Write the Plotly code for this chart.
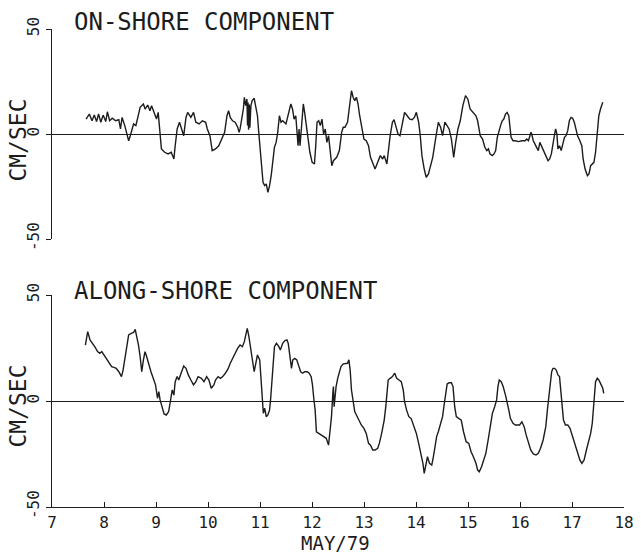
import plotly.graph_objects as go

# ---------------- data ----------------
on_days = [7.655, 7.718, 7.769, 7.813, 7.857, 7.895, 7.939, 7.983, 8.034, 8.065, 8.109, 8.159, 8.222, 8.285,
           8.317, 8.348, 8.399, 8.443, 8.474, 8.506, 8.537, 8.569, 8.613, 8.651, 8.695, 8.758, 8.790, 8.840,
           8.884, 8.915, 8.966, 9.010, 9.042, 9.074, 9.104, 9.167, 9.231, 9.293, 9.344, 9.369, 9.407, 9.452,
           9.495, 9.533, 9.577, 9.609, 9.671, 9.722, 9.766, 9.829, 9.892, 9.955, 9.987, 10.037, 10.081,
           10.144, 10.207, 10.270, 10.320, 10.365, 10.396, 10.428, 10.472, 10.522, 10.572, 10.598, 10.617,
           10.648, 10.680, 10.699, 10.724, 10.749, 10.760, 10.770, 10.780, 10.795, 10.805, 10.825, 10.850,
           10.888, 10.919, 10.951, 10.976, 11.001, 11.026, 11.058, 11.089, 11.121, 11.152, 11.184, 11.215,
           11.247, 11.278, 11.310, 11.341, 11.373, 11.404, 11.436, 11.467, 11.499, 11.530, 11.562, 11.593,
           11.625, 11.656, 11.688, 11.707, 11.732, 11.751, 11.770, 11.795, 11.820, 11.833, 11.858, 11.896,
           11.921, 11.959, 12.003, 12.047, 12.072, 12.097, 12.129, 12.160, 12.192, 12.223, 12.255, 12.286,
           12.318, 12.349, 12.381, 12.412, 12.444, 12.475, 12.526, 12.570, 12.601,
           12.633, 12.683, 12.721, 12.759, 12.791, 12.822, 12.854, 12.885, 12.917, 12.961, 12.999, 13.043,
           13.087, 13.125, 13.169, 13.213, 13.263, 13.314, 13.358, 13.389, 13.440, 13.465, 13.503, 13.547,
           13.578, 13.610, 13.654, 13.692, 13.736, 13.780, 13.830, 13.881, 13.925, 13.969, 14.007, 14.051,
           14.082, 14.114, 14.158, 14.196, 14.240, 14.284, 14.322, 14.366, 14.397, 14.429, 14.473, 14.511,
           14.555, 14.599, 14.637, 14.681, 14.725, 14.763, 14.807, 14.851, 14.901, 14.952, 14.996, 15.040,
           15.090, 15.153,
           15.185, 15.235, 15.280, 15.324, 15.361, 15.393, 15.424, 15.469, 15.500, 15.532, 15.563, 15.595,
           15.626, 15.658, 15.689, 15.721, 15.752, 15.784, 15.803, 15.828, 15.866, 15.910, 15.973, 16.036,
           16.099, 16.130, 16.162, 16.193, 16.212, 16.225, 16.256, 16.288, 16.319, 16.351, 16.382, 16.414,
           16.445, 16.496, 16.540, 16.571, 16.603, 16.634, 16.666, 16.685, 16.710, 16.729, 16.760, 16.792,
           16.823, 16.855, 16.886, 16.918, 16.949, 16.981, 17.012, 17.044, 17.075, 17.107, 17.151, 17.189,
           17.214, 17.252, 17.296, 17.327, 17.359, 17.390, 17.422, 17.453, 17.485, 17.516, 17.548, 17.592]
on_vals = [7.1, 9.5, 6.3, 9.0, 5.9, 9.5, 5.6, 9.0, 5.9, 10.6, 6.3, 7.5, 6.3, 6.8,
           2.4, 7.9, 4.0, 0.0, -3.2, -0.8, 2.4, 4.8, 4.0, 8.7, 12.7, 14.3, 11.9, 13.8,
           11.1, 13.5, 10.3, 7.1, 10.3, 0.0, -7.1, -8.7, -9.5, -8.7, -11.9, -5.6, 2.4, 5.6,
           2.4, -0.8, 7.9, 10.3, 7.9, 10.3, 5.6, 4.8, 6.3, 5.6, 2.4, -0.8, -7.9,
           -7.1, -5.6, -1.6, 0.8, 8.7, 11.1, 7.9, 6.3, 5.6, 3.2, 0.8, 2.4,
           7.1, 11.9, 17.5, 13.5, 16.7, 4.0, 15.0, 2.0, 14.0, 3.0, 13.5, 15.9,
           17.0, 13.5, 8.7, 0.8, -5.6, -15.1, -23.0, -24.6, -23.8, -27.8, -24.6, -19.8,
           -13.5, -6.3, -4.0, 0.8, 8.7, 5.6, 6.3, 5.6, 4.8, 7.9, 11.9, 14.3,
           11.9, 7.1, 8.7, 4.0, -5.6, 2.4, -5.6, 2.4, 13.5, 14.3, 10.3, 2.4,
           -2.4, -8.7, -13.5, -14.3, -5.6, 5.6, 6.3, 4.0, 7.1, 0.0, 2.4, -4.0,
           -0.8, -7.1, -15.1, -12.7, -11.9, -11.1, -7.9, 0.8, 3.2,
           3.2, 5.6, 11.9, 20.6, 17.5, 15.9, 17.5, 14.3, 8.7, 2.4, -2.4, -3.2,
           -5.6, -11.1, -13.5, -16.7, -13.5, -10.3, -11.9, -10.3, -14.3, -8.7, -0.8, 5.6,
           6.8, 4.0, 0.0, -0.8, 5.6, 10.3, 8.7, 7.1, 6.8, 7.9, 10.3, 5.6,
           -0.8, -10.3, -16.7, -20.6, -19.0, -15.1, -11.1, -4.0, 0.8, 5.6, 3.2, -0.8,
           5.6, 4.0, 2.4, -2.4, -11.1, -4.0, 2.4, 6.3, 13.5, 18.3, 16.7, 11.9,
           10.3, 8.7,
           6.3, -0.8, -2.4, -6.3, -7.9, -7.1, -9.5, -10.3, -9.5, -7.9, -1.6, 1.6,
           4.0, 6.3, 7.1, 9.5, 10.3, 8.7, 4.0, -1.6, -3.2, -3.2, -3.6, -3.2,
           -3.2, -2.4, -3.2, -0.8, 0.8, 0.0, -3.2, -4.8, -6.3, -7.9, -4.0, -5.6,
           -7.9, -10.3, -12.7, -11.9, -9.5, -4.0, 0.0, 2.4, 0.0, -7.1, -5.6, -7.9,
           -4.8, -1.6, -0.8, 1.6, 6.3, 7.9, 7.5, 5.6, 2.4, -0.8, -3.2, -5.6,
           -11.9, -16.7, -19.8, -19.0, -15.1, -14.3, -13.5, -8.7, 0.8, 8.7, 11.9, 15.1]

along_days = [7.642, 7.687, 7.731, 7.781, 7.831, 7.876, 7.920, 7.957, 8.002, 8.046, 8.096, 8.147, 8.191,
              8.235, 8.285, 8.336, 8.367, 8.411, 8.443, 8.474, 8.525, 8.569, 8.600, 8.632, 8.663, 8.695,
              8.726, 8.758, 8.789, 8.821, 8.852, 8.903, 8.947, 8.991, 9.029, 9.054, 9.079, 9.117, 9.155,
              9.199, 9.243, 9.281, 9.312, 9.344, 9.369, 9.407, 9.438, 9.482, 9.533, 9.577, 9.621, 9.671,
              9.722, 9.766, 9.810, 9.873, 9.923, 9.974, 10.018, 10.062,
              10.113, 10.144, 10.194, 10.239, 10.283, 10.333, 10.383, 10.428, 10.472, 10.522, 10.572,
              10.617, 10.661, 10.699, 10.730, 10.755, 10.787, 10.825, 10.850, 10.888, 10.919, 10.951,
              10.995, 11.026, 11.045, 11.064, 11.089, 11.121, 11.152, 11.184, 11.203, 11.228, 11.253,
              11.278, 11.316, 11.354, 11.392, 11.436, 11.480, 11.518, 11.543, 11.581, 11.606, 11.631,
              11.669, 11.707, 11.745, 11.782, 11.820, 11.858, 11.908, 11.946, 11.984, 12.009, 12.034,
              12.060, 12.085, 12.129, 12.173, 12.223, 12.274, 12.318, 12.349, 12.375, 12.400, 12.412,
              12.425, 12.463, 12.494, 12.526, 12.557, 12.601,
              12.633, 12.683, 12.709, 12.734, 12.759, 12.791, 12.822, 12.854, 12.898, 12.948, 12.999,
              13.043, 13.087, 13.125, 13.169, 13.213, 13.263, 13.295, 13.339, 13.389, 13.421, 13.440,
              13.465, 13.503, 13.547, 13.591, 13.629, 13.673, 13.717, 13.755, 13.780, 13.818, 13.862,
              13.906, 13.956, 14.007, 14.051, 14.095, 14.133, 14.158, 14.196, 14.221, 14.259, 14.303,
              14.334, 14.366, 14.397, 14.429, 14.473, 14.511, 14.536, 14.574, 14.599, 14.637, 14.681,
              14.712, 14.744, 14.775, 14.826, 14.870, 14.914, 14.964, 15.015, 15.059, 15.103, 15.153,
              15.185, 15.217, 15.261, 15.298, 15.343, 15.387, 15.424, 15.469, 15.513, 15.550, 15.576,
              15.601, 15.639, 15.676, 15.721, 15.752, 15.784, 15.815, 15.866, 15.910, 15.954, 15.992,
              16.036, 16.080, 16.118, 16.162, 16.206, 16.256, 16.307, 16.351, 16.395, 16.445, 16.496,
              16.527, 16.559, 16.584, 16.609, 16.634, 16.666, 16.697, 16.729, 16.760, 16.779, 16.811,
              16.836, 16.874, 16.918, 16.962, 17.012, 17.063, 17.107, 17.151, 17.189, 17.233, 17.277,
              17.315, 17.359, 17.390, 17.422, 17.453, 17.485, 17.516, 17.548, 17.592, 17.611]
along_vals = [26.4, 32.7, 28.8, 27.2, 25.3, 23.3, 22.5, 23.3, 21.7, 20.1, 18.6, 16.2, 15.9,
              15.4, 13.8, 11.5, 14.6, 20.9, 27.2, 31.2, 31.9, 32.3, 33.8, 30.4, 26.4, 20.9,
              13.8, 19.4, 23.3, 20.9, 17.8, 13.8, 10.7, 7.6, 1.3, 4.4, 0.5, -2.7, -6.1,
              -6.6, -5.0, 0.5, 5.2, 2.8, 9.1, 11.5, 9.9, 13.1, 16.5, 15.4, 12.3, 9.9,
              7.6, 9.1, 11.5, 10.7, 9.1, 11.5, 9.9, 6.0,
              7.6, 9.9, 11.5, 10.7, 11.5, 13.1, 15.0, 17.8, 20.1, 22.5, 24.9,
              26.4, 25.6, 28.0, 32.7, 34.3, 30.4, 24.1, 19.4, 13.8, 17.8, 21.7,
              19.4, 6.8, -0.3, -5.8, -3.4, -7.4, -6.6, -4.2, 0.5, 8.3, 17.8,
              25.6, 27.2, 26.0, 24.1, 27.2, 28.5, 28.8, 27.2, 20.9, 15.4, 19.4,
              20.1, 19.4, 17.0, 13.8, 13.1, 13.8, 13.8, 13.1, 11.5, 7.6, 1.3,
              -4.2, -14.5, -15.3, -16.0, -16.8, -17.6, -20.8, -14.5, -7.4, 3.6, 6.8,
              -2.7, 6.8, 10.7, 13.8, 16.2, 17.5,
              17.5, 17.8, 19.4, 14.6, 5.2, -0.3, -5.0, -6.6, -9.0, -11.3, -12.9,
              -15.3, -20.0, -20.8, -23.1, -23.1, -22.3, -20.0, -15.3, -9.0, -2.2, 3.6,
              9.9, 10.7, 11.5, 13.1, 10.7, 9.9, 9.1, 5.2, -0.3, -4.2, -7.4,
              -8.2, -12.1, -15.3, -20.0, -24.7, -29.4, -34.1, -28.6, -26.3, -29.4, -30.2,
              -26.3, -20.8, -16.8, -14.5, -10.5, -7.4, -2.7, 5.2, 8.0, 8.6, 8.6,
              6.8, -2.7, -7.4, -8.2, -9.0, -14.5, -19.2, -20.0, -23.9, -26.3, -29.4,
              -32.6, -33.4, -31.0, -27.8, -24.7, -18.4, -12.1, -5.8, -2.7, 0.5, 6.8,
              9.9, 9.1, 6.8, 2.8, -0.3, -4.2, -8.2, -10.5, -11.3, -11.3, -11.3,
              -9.8, -12.1, -16.0, -20.0, -23.1, -25.0, -25.5, -24.7, -22.3, -18.4, -12.1,
              -4.2, 2.0, 8.3, 13.8, 15.4, 15.4, 14.6, 12.3, 11.5, 6.0, 0.5,
              -9.0, -11.3, -11.3, -12.9, -16.8, -20.8, -24.7, -27.8, -29.4, -27.8, -23.1,
              -20.0, -15.3, -10.5, 0.5, 9.1, 10.7, 9.9, 8.3, 6.0, 3.6]

x_ticks = [7, 8, 9, 10, 11, 12, 13, 14, 15, 16, 17, 18]
y_ticks = [-50, 0, 50]
titles = ["ON-SHORE COMPONENT", "ALONG-SHORE COMPONENT"]
y_title = "CM/SEC"
x_title = "MAY/79"

# ---------------- figure ----------------
W, H = 641, 554
ML, MR, MT, MB = 52, 7, 29, 47
PW, PH = W - ML - MR, H - MT - MB

def py2paper(py):
    return (H - MB - py) / PH

def px2paper(px):
    return (px - ML) / PW

INK = "#1c1c1c"
FONT = "DejaVu Sans Mono"

fig = go.Figure()
fig.add_trace(go.Scatter(x=on_days, y=on_vals, mode="lines",
                         line=dict(color=INK, width=1.4), xaxis="x", yaxis="y",
                         showlegend=False, hoverinfo="skip"))
fig.add_trace(go.Scatter(x=along_days, y=along_vals, mode="lines",
                         line=dict(color=INK, width=1.4), xaxis="x2", yaxis="y2",
                         showlegend=False, hoverinfo="skip"))

yax_common = dict(range=[-50, 50], tickvals=y_ticks, ticktext=[str(v) for v in y_ticks],
                  ticks="outside", ticklen=5, tickwidth=1.4, tickcolor=INK,
                  showline=True, linecolor=INK, linewidth=1.4, showgrid=False,
                  zeroline=True, zerolinecolor=INK, zerolinewidth=1.2,
                  tickangle=-90, tickfont=dict(family=FONT, size=16, color=INK))

fig.update_layout(
    width=W, height=H,
    margin=dict(l=ML, r=MR, t=MT, b=MB),
    paper_bgcolor="white", plot_bgcolor="white",
    xaxis=dict(domain=[0, 1], range=[7, 18], anchor="y", showline=False, showgrid=False,
               zeroline=False, showticklabels=False, ticks=""),
    yaxis=dict(domain=[py2paper(239), 1], anchor="x", **yax_common),
    xaxis2=dict(domain=[0, 1], range=[7, 18], anchor="y2", showline=True, linecolor=INK,
                linewidth=1.4, showgrid=False, zeroline=False,
                tickvals=x_ticks, ticktext=[str(v) for v in x_ticks],
                ticks="inside", ticklen=5, tickwidth=1.4, tickcolor=INK,
                ticklabelstandoff=1, ticklabeloverflow="allow",
                tickfont=dict(family=FONT, size=16, color=INK)),
    yaxis2=dict(domain=[0, py2paper(295)], anchor="x2", **yax_common),
)

ann = []
ann.append(dict(text=titles[0], x=px2paper(72), y=py2paper(22), xref="paper", yref="paper",
                xanchor="left", yanchor="middle", showarrow=False,
                font=dict(family=FONT, size=24, color=INK)))
ann.append(dict(text=titles[1], x=px2paper(72), y=py2paper(291), xref="paper", yref="paper",
                xanchor="left", yanchor="middle", showarrow=False,
                font=dict(family=FONT, size=24, color=INK)))
for cy in (140, 406):
    ann.append(dict(text=y_title, x=px2paper(17), y=py2paper(cy), xref="paper", yref="paper",
                    xanchor="center", yanchor="middle", showarrow=False, textangle=-90,
                    font=dict(family=FONT, size=23, color=INK)))
ann.append(dict(text=x_title, x=px2paper(340), y=py2paper(543), xref="paper", yref="paper",
                xanchor="center", yanchor="middle", showarrow=False,
                font=dict(family=FONT, size=19, color=INK)))
fig.update_layout(annotations=ann)

fig.write_html("out.html", config={"displayModeBar": False},
               post_script="document.body.style.margin='0';document.body.style.overflow='hidden';")
